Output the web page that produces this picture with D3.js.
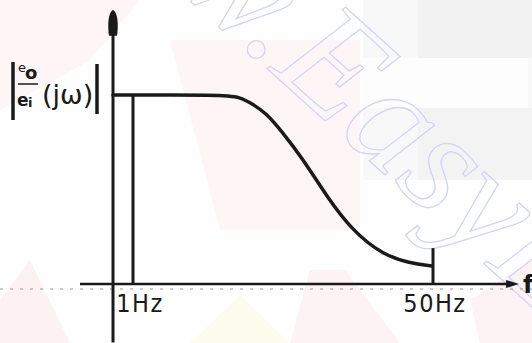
<!DOCTYPE html>
<html>
<head>
<meta charset="utf-8">
<script src="https://cdn.jsdelivr.net/npm/d3@7"></script>
<style>
  html, body { margin: 0; padding: 0; background: #ffffff; }
  svg { display: block; }
</style>
</head>
<body>
<div id="chart"></div>
<script>
// ---- data (schematic magnitude response) ----
const freqHz = [0, 15.5, 18.5, 20.6, 22.7, 25.0, 28.8, 32.7, 36.9, 41.8, 46.2, 49.8];
const gain   = [1.0, 1.0, 0.99, 0.95, 0.905, 0.82, 0.66, 0.46, 0.28, 0.155, 0.11, 0.095];
const tickFreqs  = [1, 50];
const tickLabels = ["1Hz", "50Hz"];
const markerTop  = [1.0, 0.19];     // height of the vertical marks at 1 Hz and 50 Hz
const xExtent = [-1.65, 63.4];
const yExtent = [-0.31, 1.44];
const watermark = "w.EasyE";

const W = 532, H = 343;
const svg = d3.select("#chart").append("svg").attr("width", W).attr("height", H);

// schematic (piecewise) frequency scale
const x = d3.scaleLinear().domain([0, 1, 50]).range([113, 133, 433]);
const y = d3.scaleLinear().domain([0, 1]).range([284, 95]);

// ---- background watermark ----
const bg = svg.append("g");
bg.append("rect").attr("x", 0).attr("y", 0).attr("width", W).attr("height", H).attr("fill", "#fffefe");
bg.append("path").attr("d", "M0,0 L140,0 L90,60 L0,110 Z").attr("fill", "#fdf5f6");
bg.append("path").attr("d", "M170,40 L360,40 L360,230 L220,230 Z").attr("fill", "#fef6f6");
bg.append("rect").attr("x", 363).attr("y", 0).attr("width", 169).attr("height", 180).attr("fill", "#f8f8f8");
bg.append("rect").attr("x", 418).attr("y", 0).attr("width", 114).attr("height", 58).attr("fill", "#f2f2f2");
bg.append("rect").attr("x", 363).attr("y", 58).attr("width", 165).attr("height", 50).attr("fill", "#fdfdfd");
bg.append("rect").attr("x", 418).attr("y", 108).attr("width", 114).attr("height", 72).attr("fill", "#f3f3f3");
bg.append("path").attr("d", "M0,300 L30,260 L70,343 L0,343 Z").attr("fill", "#fdf1f3");
bg.append("path").attr("d", "M190,343 L240,295 L290,343 Z").attr("fill", "#fefbef");
bg.append("path").attr("d", "M290,343 L310,270 L345,270 L400,343 Z").attr("fill", "#fdf2f4");
bg.append("path").attr("d", "M470,300 L532,260 L532,343 L480,343 Z").attr("fill", "#fdf3f5");

bg.append("text")
  .attr("transform", "translate(262,64) rotate(42)")
  .attr("font-family", "Liberation Serif, serif")
  .attr("font-style", "italic")
  .attr("font-size", 150)
  .attr("fill", "none")
  .attr("stroke", "#d3d5f4")
  .attr("stroke-width", 1.3)
  .attr("text-anchor", "start")
  .attr("dx", -118)
  .text(watermark);

// scan artefact dotted line
svg.append("line")
  .attr("x1", 0).attr("x2", W).attr("y1", 289).attr("y2", 289)
  .attr("stroke", "#9a9a9a").attr("stroke-width", 1).attr("stroke-dasharray", "3,7");

const ink = "#1a1a1a";
const g = svg.append("g");

// axes
g.append("line")
  .attr("x1", x(0)).attr("x2", x(0))
  .attr("y1", y(yExtent[1])).attr("y2", y(yExtent[0]))
  .attr("stroke", ink).attr("stroke-width", 3);
// y arrow blob
g.append("path")
  .attr("d", `M${x(0)},${y(yExtent[1]) - 2} C${x(0) + 6},${y(yExtent[1]) + 2} ${x(0) + 5},${y(yExtent[1]) + 18} ${x(0) + 4},${y(yExtent[1]) + 24} L${x(0) - 4},${y(yExtent[1]) + 24} C${x(0) - 5},${y(yExtent[1]) + 18} ${x(0) - 6},${y(yExtent[1]) + 2} ${x(0)},${y(yExtent[1]) - 2} Z`)
  .attr("fill", ink);

g.append("line")
  .attr("x1", x(xExtent[0])).attr("x2", x(xExtent[1]) - 4)
  .attr("y1", y(0)).attr("y2", y(0))
  .attr("stroke", ink).attr("stroke-width", 2.5);
g.append("path")
  .attr("d", `M${x(xExtent[1]) + 4},${y(0)} L${x(xExtent[1]) - 9},${y(0) - 4} L${x(xExtent[1]) - 9},${y(0) + 4} Z`)
  .attr("fill", ink);
g.append("text")
  .attr("x", x(xExtent[1]) + 8).attr("y", y(0) + 9)
  .attr("font-family", "DejaVu Sans, sans-serif").attr("font-weight", "bold")
  .attr("font-size", 24).attr("fill", ink).text("f");

// vertical markers at 1 Hz and 50 Hz
g.selectAll("line.mark").data(tickFreqs).enter().append("line")
  .attr("class", "mark")
  .attr("x1", d => x(d)).attr("x2", d => x(d))
  .attr("y1", (d, i) => y(markerTop[i])).attr("y2", y(0))
  .attr("stroke", ink).attr("stroke-width", 3);

// response curve
const line = d3.line().x((d, i) => x(freqHz[i])).y(d => y(d)).curve(d3.curveBasis);
g.append("path")
  .datum(gain)
  .attr("d", line)
  .attr("fill", "none").attr("stroke", ink).attr("stroke-width", 3.5)
  .attr("stroke-linecap", "round");

// tick labels
g.selectAll("text.tick").data(tickFreqs).enter().append("text")
  .attr("class", "tick")
  .attr("x", (d, i) => x(d) + (i === 0 ? 7 : 2))
  .attr("y", 312)
  .attr("text-anchor", "middle")
  .attr("font-family", "DejaVu Sans Condensed, DejaVu Sans, sans-serif")
  .attr("font-size", 25)
  .attr("letter-spacing", 1.5)
  .attr("fill", ink)
  .text((d, i) => tickLabels[i]);

// y label |eo/ei (jω)|
const yl = g.append("g").attr("fill", ink).attr("font-family", "DejaVu Sans, sans-serif");
yl.append("line").attr("x1", 13).attr("x2", 13).attr("y1", 62).attr("y2", 120).attr("stroke", ink).attr("stroke-width", 3.5);
yl.append("line").attr("x1", 97).attr("x2", 97).attr("y1", 64).attr("y2", 114).attr("stroke", ink).attr("stroke-width", 3.5);
yl.append("text").attr("x", 18).attr("y", 72).attr("font-size", 13).text("e");
yl.append("text").attr("x", 25).attr("y", 79).attr("font-size", 18).attr("font-weight", "bold").text("o");
yl.append("line").attr("x1", 18).attr("x2", 38).attr("y1", 84).attr("y2", 84).attr("stroke", ink).attr("stroke-width", 1.5);
yl.append("text").attr("x", 17).attr("y", 106).attr("font-size", 17).attr("font-weight", "bold").text("e");
yl.append("text").attr("x", 28).attr("y", 107).attr("font-size", 13).attr("font-weight", "bold").text("i");
yl.append("text").attr("x", 42).attr("y", 104).attr("font-size", 27).text("(jω)");
</script>
</body>
</html>
